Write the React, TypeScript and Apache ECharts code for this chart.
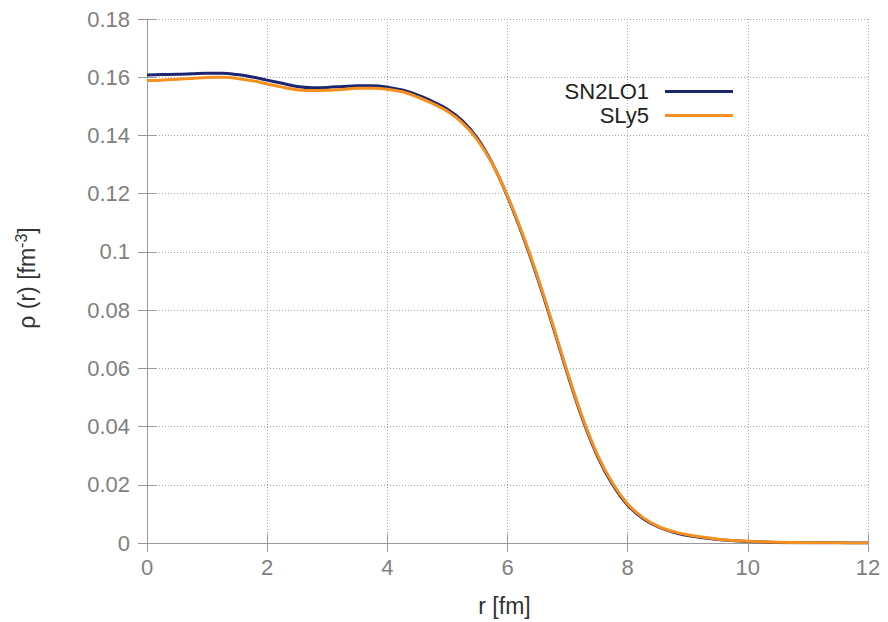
import React, { useEffect, useRef } from "react";
import * as echarts from "echarts";

const radius = [
  0, 0.25, 0.5, 0.75, 1, 1.25, 1.5, 1.75, 2, 2.25, 2.5, 2.75, 3, 3.25, 3.5, 3.75, 4, 4.25, 4.5, 4.75,
  5, 5.25, 5.5, 5.75, 6, 6.25, 6.5, 6.75, 7, 7.25, 7.5, 7.75, 8, 8.25, 8.5, 8.75, 9, 9.5, 10, 10.5, 11, 11.5, 12,
];

const sn2lo1 = [
  0.1608, 0.1609, 0.161, 0.1612, 0.1614, 0.1614, 0.1609, 0.1601, 0.159, 0.1579, 0.1568, 0.1564, 0.1565, 0.1568,
  0.1571, 0.1571, 0.1566, 0.1556, 0.1539, 0.1517, 0.149, 0.145, 0.139, 0.1303, 0.119, 0.1058, 0.091, 0.0748,
  0.058, 0.0425, 0.0297, 0.02, 0.013, 0.0085, 0.0056, 0.0038, 0.0026, 0.0012, 0.0005, 0.0002, 0.0001, 0.00005,
  0.00002,
];

const sly5 = [
  0.1589, 0.159, 0.1593, 0.1596, 0.1599, 0.16, 0.1596, 0.1588, 0.1577, 0.1566, 0.1557, 0.1554, 0.1555, 0.1558,
  0.1562, 0.1562, 0.1559, 0.155, 0.1532, 0.151, 0.1483, 0.1443, 0.1385, 0.1302, 0.1192, 0.1062, 0.0915, 0.0753,
  0.0585, 0.043, 0.0302, 0.0205, 0.0134, 0.0088, 0.0058, 0.004, 0.0028, 0.0013, 0.0006, 0.00025, 0.0001, 0.00005,
  0.00002,
];

const seriesNames = ["SN2LO1", "SLy5"];
const seriesColors = ["#1c2670", "#f7901e"];

const FONT = "Liberation Sans, Arial, sans-serif";

export default function App() {
  const ref = useRef<HTMLDivElement>(null);
  useEffect(() => {
    if (!ref.current) return;
    const chart = echarts.init(ref.current, undefined, { renderer: "svg" });
    const tickLabel = { show: false };
    const fmtY = (v: number) => String(+v.toFixed(2));
    chart.setOption({
      animation: false,
      backgroundColor: "#ffffff",
      textStyle: { fontFamily: FONT },
      grid: { left: 147, right: 20, top: 19, bottom: 79, containLabel: false },
      legend: {
        orient: "vertical",
        right: 150,
        top: 75,
        align: "right",
        itemWidth: 68,
        itemHeight: 3,
        itemGap: 1,
        icon: "rect",
        data: seriesNames,
        textStyle: { fontFamily: FONT, fontSize: 22, lineHeight: 23, color: "#222", padding: [0, 11, 0, 0] },
      },
      xAxis: [
        {
          type: "value",
          min: 0,
          max: 12,
          interval: 2,
          name: "r [fm]",
          nameLocation: "middle",
          nameGap: 51,
          nameTextStyle: { fontFamily: FONT, fontSize: 23, color: "#333", padding: [0, 6, 0, 0] },
          axisLine: { show: true, lineStyle: { color: "#999", width: 1 } },
          axisTick: { show: true, inside: true, length: 9, lineStyle: { color: "#999" } },
          axisLabel: { margin: 13, fontFamily: FONT, fontSize: 22, color: "#808080" },
          splitLine: { show: true, lineStyle: { color: "#aaa", type: [1, 2], width: 1 } },
        },
        {
          type: "value",
          position: "top",
          min: 0,
          max: 12,
          interval: 2,
          axisLine: { show: false },
          axisTick: { show: true, inside: true, length: 9, lineStyle: { color: "#999" } },
          axisLabel: tickLabel,
          splitLine: { show: false },
        },
      ],
      yAxis: [
        {
          type: "value",
          min: 0,
          max: 0.18,
          interval: 0.02,
          name: "{a|ρ (r) [fm}{s|-3}{a|]}",
          nameLocation: "middle",
          nameGap: 106,
          nameRotate: 90,
          nameTextStyle: {
            fontFamily: FONT,
            fontSize: 23,
            color: "#333",
            padding: [0, 0, 0, 6],
            rich: {
              a: { fontFamily: FONT, fontSize: 23, color: "#333" },
              s: { fontFamily: FONT, fontSize: 16, color: "#333", verticalAlign: "top", padding: [0, 0, 12, 0] },
            },
          },
          axisLine: { show: true, lineStyle: { color: "#999", width: 1 } },
          axisTick: { show: true, inside: true, length: 9, lineStyle: { color: "#999" } },
          axisLabel: { margin: 17, fontFamily: FONT, fontSize: 22, color: "#808080", formatter: fmtY },
          splitLine: { show: true, lineStyle: { color: "#aaa", type: [1, 2], width: 1 } },
        },
        {
          type: "value",
          position: "right",
          min: 0,
          max: 0.18,
          interval: 0.02,
          axisLine: { show: false },
          axisTick: { show: true, inside: true, length: 9, lineStyle: { color: "#999" } },
          axisLabel: tickLabel,
          splitLine: { show: false },
        },
      ],
      series: [
        {
          name: seriesNames[0],
          type: "line",
          xAxisIndex: 0,
          yAxisIndex: 0,
          showSymbol: false,
          smooth: 0.35,
          color: seriesColors[0],
          lineStyle: { color: seriesColors[0], width: 3 },
          data: radius.map((r, i) => [r, sn2lo1[i]]),
          z: 2,
        },
        {
          name: seriesNames[1],
          type: "line",
          xAxisIndex: 0,
          yAxisIndex: 0,
          showSymbol: false,
          smooth: 0.35,
          color: seriesColors[1],
          lineStyle: { color: seriesColors[1], width: 3 },
          data: radius.map((r, i) => [r, sly5[i]]),
          z: 3,
        },
      ],
    });
    return () => chart.dispose();
  }, []);
  return <div ref={ref} style={{ width: 888, height: 622, position: "absolute", left: 0, top: 0 }} />;
}
